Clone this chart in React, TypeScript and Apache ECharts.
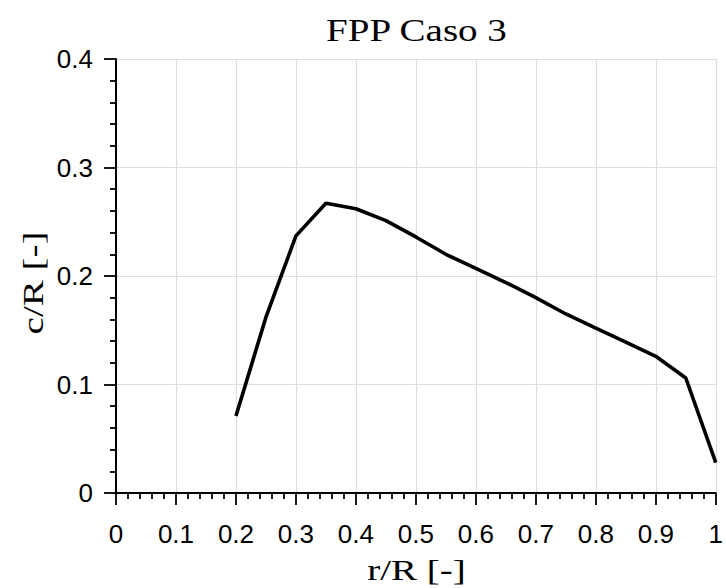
import React, { useEffect, useRef } from "react";
import * as echarts from "echarts";

const titleText = "FPP Caso 3";
const xLabel = "r/R [-]";
const yLabel = "c/R [-]";

const rR = [0.2, 0.25, 0.3, 0.35, 0.4, 0.45, 0.5, 0.55, 0.6, 0.65, 0.7, 0.75, 0.8, 0.85, 0.9, 0.95, 1.0];
const cR = [0.071, 0.162, 0.237, 0.267, 0.262, 0.251, 0.236, 0.22, 0.207, 0.194, 0.18, 0.165, 0.152, 0.139, 0.126, 0.106, 0.028];

const xTicks = [0, 0.1, 0.2, 0.3, 0.4, 0.5, 0.6, 0.7, 0.8, 0.9, 1];
const yTicks = [0, 0.1, 0.2, 0.3, 0.4];

export default function App() {
  const ref = useRef<HTMLDivElement>(null);
  useEffect(() => {
    document.body.style.margin = "0";
    if (!ref.current) return;
    const chart = echarts.init(ref.current, undefined, { renderer: "svg" });
    const gridLeft = 116;
    const gridTop = 59;
    const gridW = 601;
    const gridH = 434;
    const labelFont = "Liberation Sans";
    const axisCommon = {
      axisLine: { show: true, onZero: false, lineStyle: { color: "#000", width: 2 } },
      axisTick: { show: true, inside: false, length: 12, lineStyle: { color: "#000", width: 1.8 } },
      minorTick: { show: true, splitNumber: 5, length: 6, lineStyle: { color: "#000", width: 1.8 } },
      splitLine: { show: true, lineStyle: { color: "#dedede", width: 1.2 } },
      minorSplitLine: { show: false },
    };
    chart.setOption({
      animation: false,
      backgroundColor: "#fff",
      grid: { left: gridLeft, top: gridTop, width: gridW, height: gridH, containLabel: false },
      xAxis: {
        type: "value",
        min: xTicks[0],
        max: xTicks[xTicks.length - 1],
        interval: 0.1,
        ...axisCommon,
        axisLabel: {
          show: true,
          margin: 28,
          color: "#000",
          fontFamily: labelFont,
          fontSize: 26,
          formatter: (v: number) => String(Math.round(v * 10) / 10),
          showMaxLabel: true,
          showMinLabel: true,
        },
      },
      yAxis: {
        type: "value",
        min: yTicks[0],
        max: yTicks[yTicks.length - 1],
        interval: 0.1,
        ...axisCommon,
        axisLabel: {
          show: true,
          margin: 23,
          color: "#000",
          fontFamily: labelFont,
          fontSize: 26,
          formatter: (v: number) => String(Math.round(v * 10) / 10),
        },
      },
      series: [
        {
          type: "line",
          data: rR.map((x, i) => [x, cR[i]]),
          symbol: "none",
          lineStyle: { color: "#000", width: 3.6 },
          clip: false,
        },
      ],
      graphic: [
        {
          type: "text",
          x: gridLeft + gridW / 2,
          y: 30,
          scaleX: 1.22,
          style: {
            text: titleText,
            font: "32px 'Liberation Serif'",
            fill: "#000",
            align: "center",
            verticalAlign: "middle",
          },
        },
        {
          type: "text",
          x: gridLeft + gridW / 2,
          y: 570,
          scaleX: 1.3,
          style: {
            text: xLabel,
            font: "30px 'Liberation Serif'",
            fill: "#000",
            align: "center",
            verticalAlign: "middle",
          },
        },
        {
          type: "text",
          x: 33,
          y: 283,
          rotation: Math.PI / 2,
          scaleX: 1.3,
          style: {
            text: yLabel,
            font: "30px 'Liberation Serif'",
            fill: "#000",
            align: "center",
            verticalAlign: "middle",
          },
        },
      ],
    });
    return () => chart.dispose();
  }, []);
  return <div ref={ref} style={{ width: 726, height: 588 }} />;
}
